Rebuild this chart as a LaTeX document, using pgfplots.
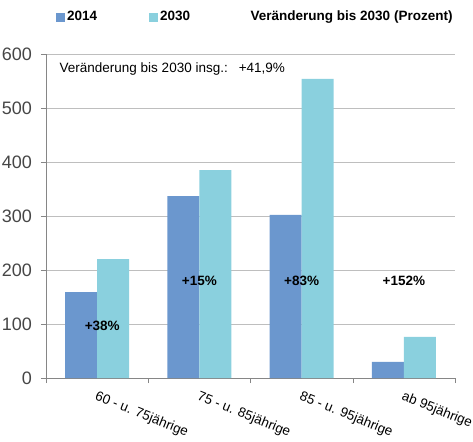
\documentclass[border=0pt]{standalone}
\usepackage{pgfplots}
\pgfplotsset{compat=1.18}
\usepackage{fontspec}
\setmainfont{Liberation Sans}
\definecolor{c2014}{RGB}{107,151,206}
\definecolor{c2030}{RGB}{138,208,222}
\definecolor{axgray}{RGB}{134,134,134}
\definecolor{gridgray}{RGB}{190,190,190}
\definecolor{labgray}{RGB}{70,70,70}
\begin{document}
\fontsize{13.5}{16}\selectfont
\begin{tikzpicture}
\begin{axis}[
    at={(46pt,63pt)}, anchor=south west,
    scale only axis,
    width=409pt, height=324pt,
    ybar=0pt, bar width=32pt,
    xmin=-0.5, xmax=3.5,
    ymin=0, ymax=600,
    ytick distance=100,
    xtick={0,1,2,3},
    xticklabels={60 - u. 75jährige, 75 - u. 85jährige, 85 - u. 95jährige, ab 95jährige},
    minor xtick={-0.5,0.5,1.5,2.5,3.5},
    major x tick style={draw=none},
    minor x tick style={axgray},
    y tick style={axgray},
    tick align=outside,
    tick pos=left,
    major tick length=5pt, minor tick length=5pt,
    /pgf/number format/assume math mode=true,
    xticklabel style={font=\fontsize{13.5}{16}\selectfont, rotate=-22, anchor=north west, xshift=-1pt, yshift=-2pt},
    yticklabel style={font=\fontsize{18}{22}\selectfont, text=labgray, inner sep=0pt, anchor=east, xshift=-9pt},
    axis x line*=bottom, axis y line*=left,
    axis line style={axgray},
    ymajorgrids, grid style={gridgray},
    legend style={at={(0.017,1.114)}, anchor=west, draw=none, fill=none,
        legend columns=2, font=\bfseries\fontsize{13.5}{16}\selectfont,
        /tikz/every even column/.append style={column sep=50pt}},
    legend image code/.code={\fill[#1] (0pt,-4.5pt) rectangle (9pt,4.5pt);},
    clip=false,
]
\addplot[fill=c2014, draw=none] coordinates {(0,159) (1,337) (2,302) (3,30)};
\addplot[fill=c2030, draw=none] coordinates {(0,220) (1,385) (2,554) (3,76)};
\legend{2014, 2030}
\node[font=\bfseries] at (0.05,96) {+38\%};
\node[font=\bfseries] at (1,180) {+15\%};
\node[font=\bfseries] at (2,180) {+83\%};
\node[font=\bfseries] at (3,180) {+152\%};
\node[anchor=west] at (-0.412,572) {Veränderung bis 2030 insg.:\hspace{11pt}+41,9\%};
\node[anchor=west, font=\bfseries] at (axis description cs:0.489,1.114) {Veränderung bis 2030 (Prozent)};
\end{axis}
\pgfresetboundingbox
\useasboundingbox (0,0) rectangle (473pt,441pt);
\end{tikzpicture}
\end{document}
